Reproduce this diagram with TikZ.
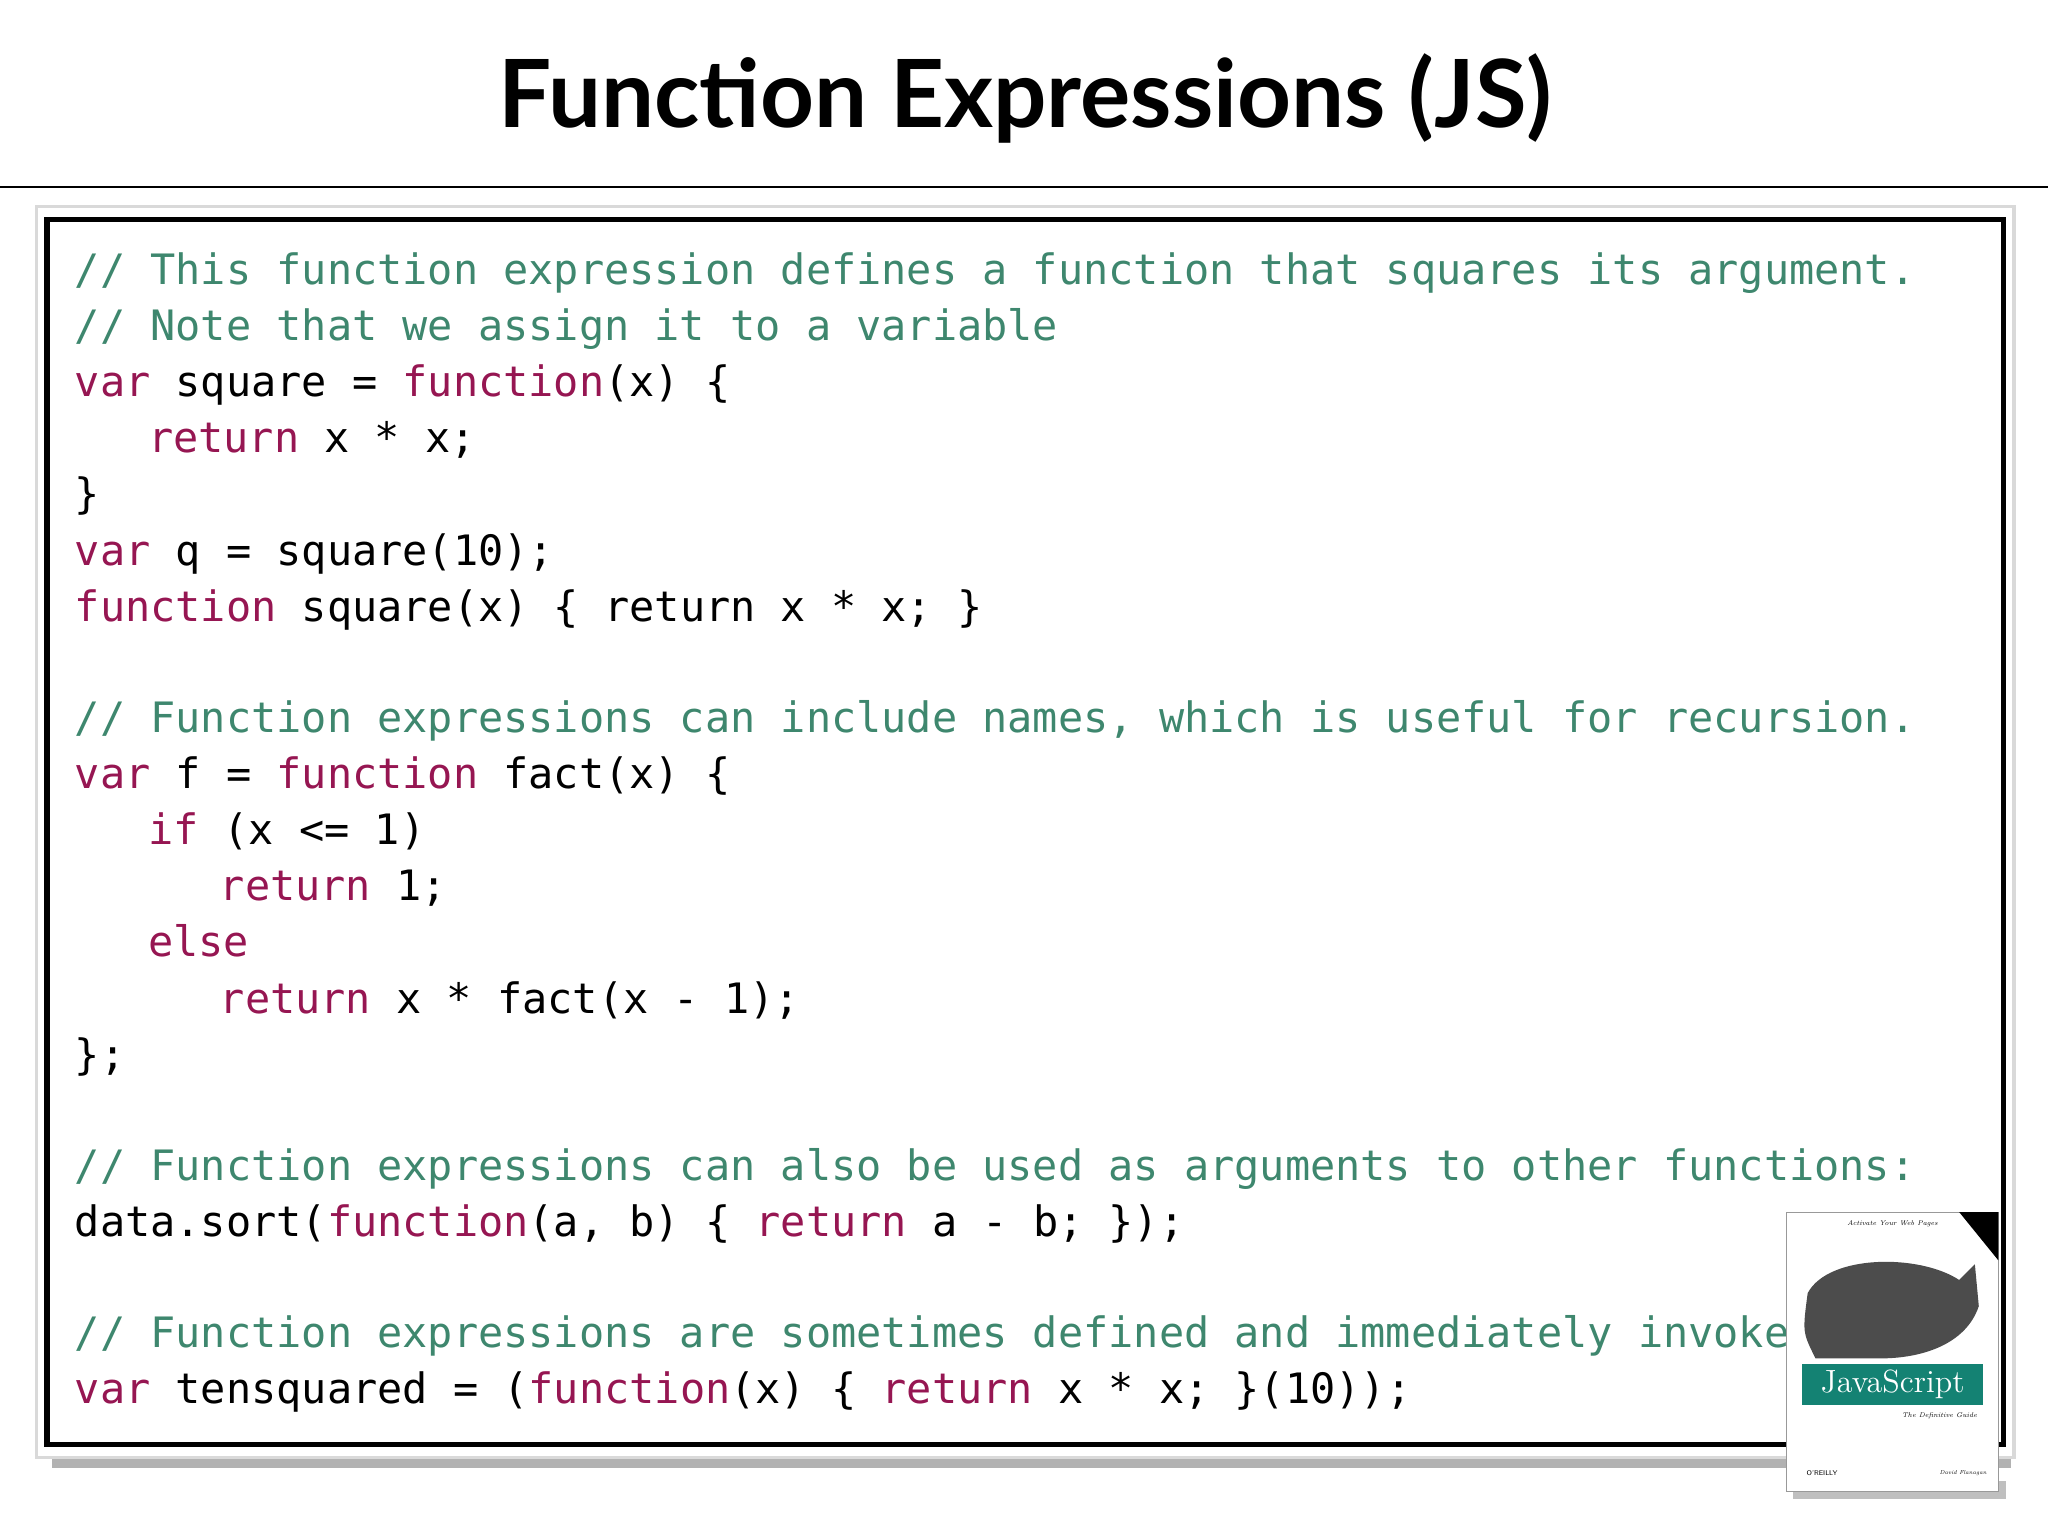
\documentclass[tikz,border=0pt]{standalone}
\usepackage{fontspec}
\newfontfamily\codef{DejaVu Sans Mono}
\newfontfamily\titlef{Lato}
\definecolor{cmt}{RGB}{62,135,110}
\definecolor{kw}{RGB}{150,22,82}
\definecolor{teal}{RGB}{20,130,115}
\newcommand{\K}[1]{\textcolor{kw}{#1}}
\tikzset{cl/.style={anchor=west,inner sep=0pt,yshift=-0.12cm,text height=0.75em,text depth=0.22em,font=\codef\fontsize{18.25pt}{20pt}\selectfont},
cmtline/.style={cl,text=cmt}}
\begin{document}
\begin{tikzpicture}[x=0.02cm,y=-0.02cm]
\useasboundingbox (0,0) rectangle (1568,1176);
\fill[white] (0,0) rectangle (1568,1176);
\node (title) at (785,75) {\titlef\bfseries\fontsize{41pt}{50pt}\selectfont Function Expressions (JS)};
\draw[line width=1pt] (0,143) -- (1568,143);
% panel
\fill[black!30] (40,1112) rectangle (1540,1124);
\draw[black!15,fill=white,line width=1.5pt] (28,158) rectangle (1542,1116);
\draw[line width=2.5pt] (36,168) rectangle (1534,1106);
\node[cmtline] (l1) at (57,207) {// This function expression defines a function that squares its argument.};
\node[cmtline] (l2) at (57,250) {// Note that we assign it to a variable};
\node[cl] (l3) at (57,293) {\K{var} square = \K{function}(x) \{};
\node[cl] (l4) at (113,336) {\K{return} x * x;};
\node[cl] (l5) at (57,379) {\}};
\node[cl] (l6) at (57,422) {\K{var} q = square(10);};
\node[cl] (l7) at (57,465) {\K{function} square(x) \{ return x * x; \}};
\node[cmtline] (l8) at (57,550) {// Function expressions can include names, which is useful for recursion.};
\node[cl] (l9) at (57,593) {\K{var} f = \K{function} fact(x) \{};
\node[cl] (l10) at (113,636) {\K{if} (x <= 1)};
\node[cl] (l11) at (168,679) {\K{return} 1;};
\node[cl] (l12) at (113,722) {\K{else}};
\node[cl] (l13) at (168,765) {\K{return} x * fact(x - 1);};
\node[cl] (l14) at (57,808) {\};};
\node[cmtline] (l15) at (57,893) {// Function expressions can also be used as arguments to other functions:};
\node[cl] (l16) at (57,936) {data.sort(\K{function}(a, b) \{ \K{return} a - b; \});};
\node[cmtline] (l17) at (57,1021) {// Function expressions are sometimes defined and immediately invoked:};
\node[cl] (l18) at (57,1064) {\K{var} tensquared = (\K{function}(x) \{ \K{return} x * x; \}(10));};
% book
\fill[black!25] (1373,1134) rectangle (1536,1148);
\draw[black!40,fill=white] (1368,928) rectangle (1530,1142);
\fill[black] (1500,928) -- (1530,928) -- (1530,965) -- cycle;
\fill[black!70] (1384,990) .. controls (1400,960) and (1470,960) .. (1500,980) -- (1512,968) -- (1515,1000) .. controls (1505,1030) and (1470,1040) .. (1440,1040) -- (1390,1040) .. controls (1380,1020) .. cycle;
\node[fill=teal,text=white,inner sep=0pt,minimum width=2.76cm,minimum height=0.62cm,font=\fontsize{14pt}{14pt}\selectfont] (js) at (1449,1060) {JavaScript};
\node[font=\fontsize{3pt}{3pt}\itshape] (sub) at (1485,1084) {The Definitive Guide};
\node[font=\fontsize{3pt}{3pt}\itshape] (top) at (1449,937) {Activate Your Web Pages};
\node[font=\fontsize{3pt}{3pt}\sffamily] (or) at (1395,1128) {O'REILLY};
\node[font=\fontsize{2.5pt}{3pt}\itshape] (au) at (1503,1128) {David Flanagan};
\end{tikzpicture}
\end{document}
